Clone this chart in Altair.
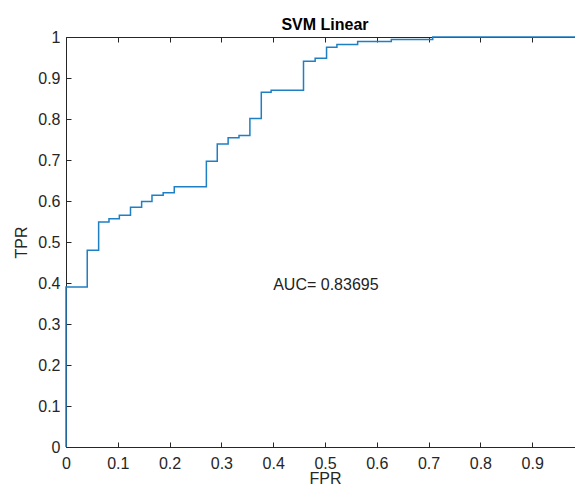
import altair as alt
import pandas as pd

# ROC curve corner points (step-after): FPR, TPR
fpr = [0.0, 0.0, 0.041, 0.063, 0.083, 0.103, 0.1245, 0.146, 0.166, 0.1876,
       0.209, 0.271, 0.292, 0.313, 0.334, 0.355, 0.377, 0.396, 0.4585, 0.481,
       0.503, 0.523, 0.563, 0.628, 0.708, 1.0]
tpr = [0.0, 0.39, 0.48, 0.549, 0.557, 0.565, 0.585, 0.599, 0.614, 0.620,
       0.635, 0.697, 0.739, 0.754, 0.760, 0.801, 0.865, 0.870, 0.941, 0.948,
       0.975, 0.982, 0.989, 0.994, 1.0, 1.0]

x_ticks = [0, 0.1, 0.2, 0.3, 0.4, 0.5, 0.6, 0.7, 0.8, 0.9, 1]
y_ticks = [0, 0.1, 0.2, 0.3, 0.4, 0.5, 0.6, 0.7, 0.8, 0.9, 1]

title_text = "SVM Linear"
x_title = "FPR"
y_title = "TPR"
auc_label = ["AUC= 0.83695"]
auc_x = [0.4]
auc_y = [0.4]

df = pd.DataFrame({"fpr": fpr, "tpr": tpr})
auc_df = pd.DataFrame({"fpr": auc_x, "tpr": auc_y, "label": auc_label})

FONT = "Liberation Sans"
AX = "#262626"
LINE = "#1f7fc4"
W, H = 518, 410

xs = alt.Scale(domain=[0, 1], nice=False, zero=False)
ys = alt.Scale(domain=[0, 1], nice=False, zero=False)

# Labelled axes (no ticks)
x_lab = alt.Axis(orient="bottom", values=x_ticks, format="~g", ticks=False, tickSize=0,
                 domain=False, grid=False, labelFlush=False, labelPadding=8,
                 labelFontSize=16, labelFont=FONT, labelColor=AX,
                 title=x_title, titleFontSize=16, titleFont=FONT, titleColor=AX,
                 titleFontWeight="normal", titlePadding=-1)
y_lab = alt.Axis(orient="left", values=y_ticks, format="~g", ticks=False, tickSize=0,
                 domain=False, grid=False, labelFlush=False, labelPadding=6,
                 labelFontSize=16, labelFont=FONT, labelColor=AX,
                 title=y_title, titleFontSize=16, titleFont=FONT, titleColor=AX,
                 titleFontWeight="normal", titlePadding=8)

# Inward ticks on bottom / left edges
x_in_b = alt.Axis(orient="top", offset=-H, values=x_ticks, labels=False, domain=False,
                  grid=False, ticks=True, tickSize=5, tickColor=AX, tickWidth=1, title=None)
y_in_l = alt.Axis(orient="right", offset=-W, values=y_ticks, labels=False, domain=False,
                  grid=False, ticks=True, tickSize=5, tickColor=AX, tickWidth=1, title=None)
# Inward ticks on top / right edges
x_in_t = alt.Axis(orient="bottom", offset=-H, values=x_ticks, labels=False, domain=False,
                  grid=False, ticks=True, tickSize=5, tickColor=AX, tickWidth=1, title=None)
y_in_r = alt.Axis(orient="left", offset=-W, values=y_ticks, labels=False, domain=False,
                  grid=False, ticks=True, tickSize=5, tickColor=AX, tickWidth=1, title=None)

line = alt.Chart(df).mark_line(interpolate="step-after", color=LINE, strokeWidth=1.5).encode(
    x=alt.X("fpr:Q", scale=xs, axis=x_lab),
    y=alt.Y("tpr:Q", scale=ys, axis=y_lab),
)

text = alt.Chart(auc_df).mark_text(align="left", baseline="middle", font=FONT,
                                   fontSize=16, color="#222222", dy=2).encode(
    x=alt.X("fpr:Q", scale=xs, axis=x_in_b),
    y=alt.Y("tpr:Q", scale=ys, axis=y_in_l),
    text="label:N",
)

ghost = alt.Chart(df).mark_line(opacity=0).encode(
    x=alt.X("fpr:Q", scale=xs, axis=x_in_t),
    y=alt.Y("tpr:Q", scale=ys, axis=y_in_r),
)

chart = alt.layer(line, text, ghost).resolve_axis(
    x="independent", y="independent"
).properties(
    width=W, height=H,
    title=alt.TitleParams(text=title_text, font=FONT, fontSize=16, fontWeight="bold",
                          color="#000000", anchor="middle", frame="group", offset=0, dy=4),
    padding={"left": 58, "top": 29, "right": -9, "bottom": 40},
    autosize=alt.AutoSizeParams(type="none"),
    background="white",
).configure_view(stroke=AX, strokeWidth=1)

chart.save("out.html", embed_options={"renderer": "svg", "actions": False})
